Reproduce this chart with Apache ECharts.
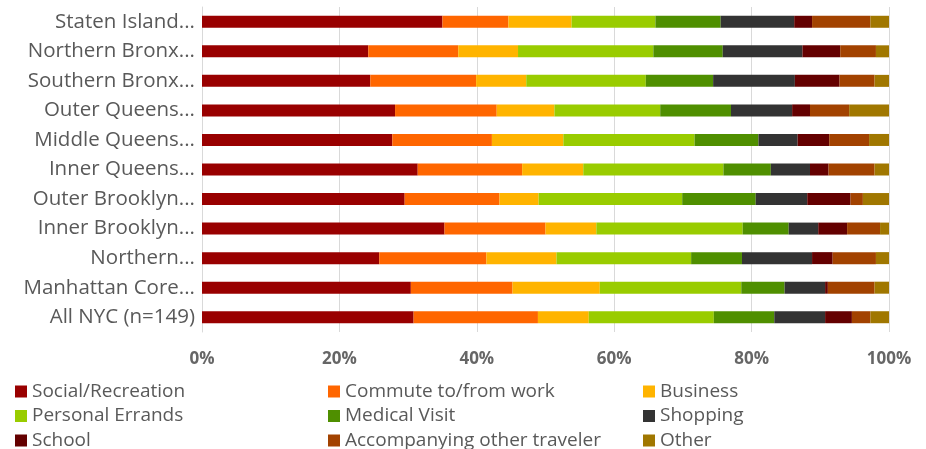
<!DOCTYPE html>
<html><head><meta charset="utf-8">
<script src="https://cdn.jsdelivr.net/npm/echarts@6/dist/echarts.min.js"></script>
<style>html,body{margin:0;padding:0;background:#fff}#c{width:926px;height:449px}</style>
</head><body><div id="c"></div>
<script>
const categories = ["Staten Island...","Northern Bronx...","Southern Bronx...","Outer Queens...","Middle Queens...","Inner Queens...","Outer Brooklyn...","Inner Brooklyn...","Northern...","Manhattan Core...","All NYC (n=149)"];
const socialRecreation = [35.0,24.2,24.5,28.1,27.7,31.4,29.5,35.3,25.8,30.4,30.8];
const commute = [9.6,13.1,15.4,14.8,14.5,15.2,13.8,14.7,15.6,14.8,18.1];
const business = [9.2,8.7,7.3,8.4,10.4,8.9,5.7,7.4,10.2,12.7,7.4];
const personalErrands = [12.2,19.7,17.4,15.4,19.1,20.4,20.9,21.3,19.6,20.6,18.2];
const medicalVisit = [9.5,10.1,9.8,10.3,9.3,6.9,10.7,6.7,7.4,6.3,8.8];
const shopping = [10.7,11.6,11.9,8.9,5.7,5.7,7.5,4.3,10.2,5.9,7.4];
const school = [2.6,5.5,6.5,2.6,4.6,2.7,6.3,4.2,3.0,0.4,3.9];
const accompanying = [8.5,5.2,5.1,5.7,5.8,6.7,1.8,4.8,6.3,6.8,2.7];
const other = [2.7,1.9,2.1,5.8,2.9,2.1,3.8,1.3,1.9,2.1,2.7];
const xTicks = [0,20,40,60,80,100];

const seriesDefs = [
  ["Social/Recreation", socialRecreation, "#990000"],
  ["Commute to/from work", commute, "#FF6600"],
  ["Business", business, "#FFB400"],
  ["Personal Errands", personalErrands, "#99CC00"],
  ["Medical Visit", medicalVisit, "#4F8F00"],
  ["Shopping", shopping, "#333333"],
  ["School", school, "#640000"],
  ["Accompanying other traveler", accompanying, "#A24200"],
  ["Other", other, "#A07700"]
];
const font = "'Open Sans', Lato, sans-serif";
const legendCols = [
  ["Social/Recreation","Personal Errands","School"],
  ["Commute to/from work","Medical Visit","Accompanying other traveler"],
  ["Business","Shopping","Other"]
];
const legendLefts = [15, 328, 643];
const chart = echarts.init(document.getElementById('c'), null, {renderer:'canvas'});
chart.setOption({
  animation:false,
  textStyle:{fontFamily:font},
  grid:{left:202, right:37, top:7, height:325, containLabel:false},
  xAxis:{type:'value', min:xTicks[0], max:xTicks[xTicks.length-1], interval:20,
    axisLine:{show:false}, axisTick:{show:false},
    splitLine:{lineStyle:{color:'#d9d9d9', width:1}},
    axisLabel:{formatter:v=>v+'%', color:'#666666', fontSize:17, fontWeight:'bold', fontFamily:font, margin:19}},
  yAxis:{type:'category', data:categories, inverse:true,
    axisLine:{show:true, lineStyle:{color:'#d9d9d9'}}, axisTick:{show:false},
    axisLabel:{color:'#595959', fontSize:20.5, fontFamily:font, margin:7}},
  legend: legendCols.map((col,i)=>({
    data:col, orient:'vertical', left:legendLefts[i], top:382, height:120, width:300, padding:0,
    itemWidth:12, itemHeight:12, itemGap:5.5, icon:'rect',
    selectedMode:false,
    textStyle:{color:'#595959', fontSize:19, fontFamily:font, lineHeight:19}
  })),
  series: seriesDefs.map(([name,data,color])=>({
    name, type:'bar', stack:'total', data, barWidth:12,
    itemStyle:{color}
  }))
});
</script></body></html>
